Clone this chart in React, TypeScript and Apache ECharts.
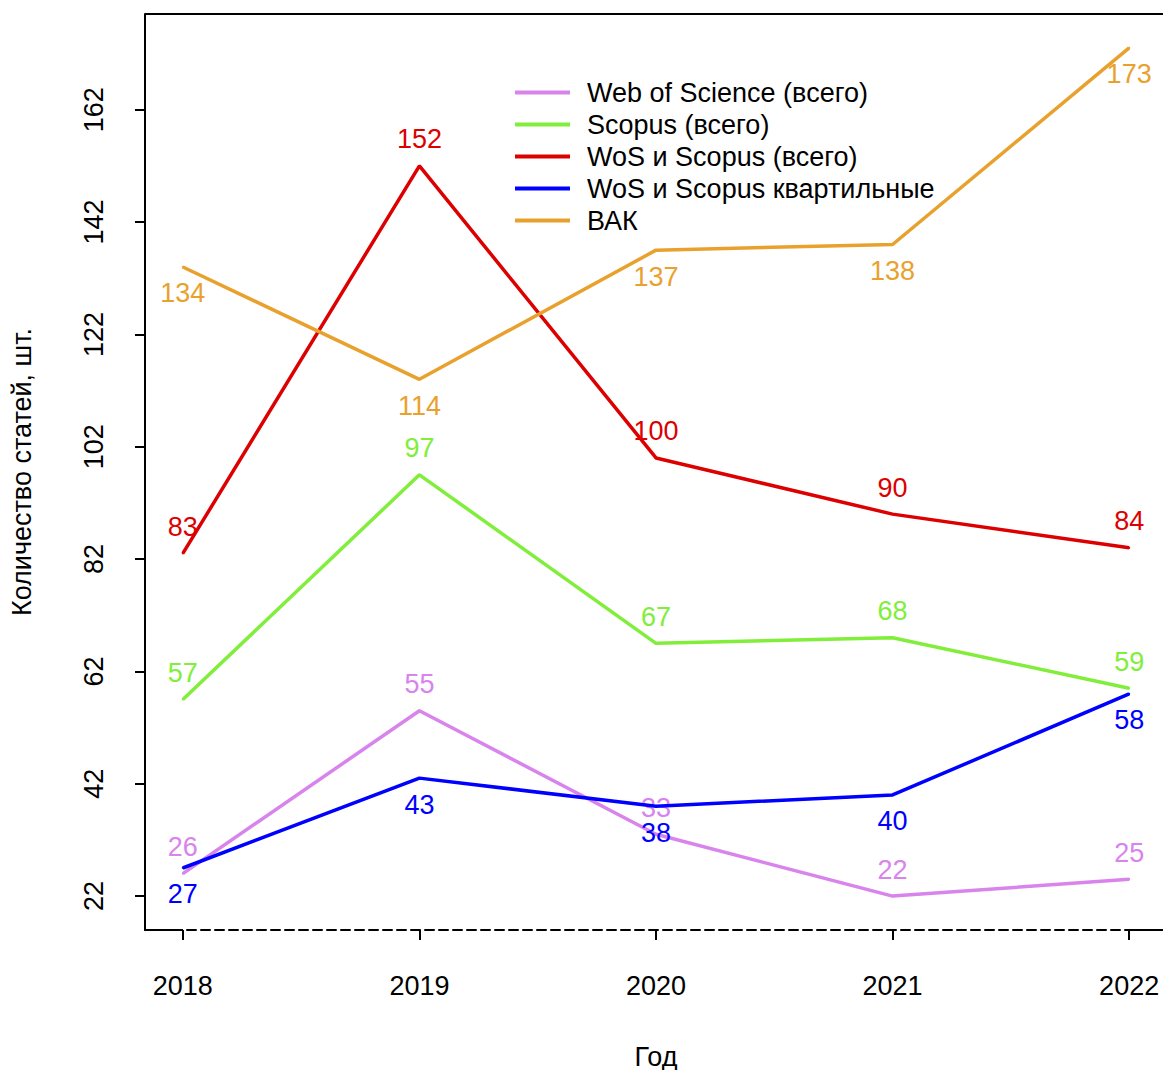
import React, { useEffect, useRef } from "react";
import * as echarts from "echarts";

const years = [2018, 2019, 2020, 2021, 2022];
const yTicks = [22, 42, 62, 82, 102, 122, 142, 162];
const wosTotal = [26, 55, 33, 22, 25];
const scopusTotal = [57, 97, 67, 68, 59];
const wosScopusTotal = [83, 152, 100, 90, 84];
const wosScopusQuart = [27, 43, 38, 40, 58];
const vak = [134, 114, 137, 138, 173];

const seriesNames = [
  "Web of Science (всего)",
  "Scopus (всего)",
  "WoS и Scopus (всего)",
  "WoS и Scopus квартильные",
  "ВАК",
];
const seriesValues = [wosTotal, scopusTotal, wosScopusTotal, wosScopusQuart, vak];
const seriesColors = ["#D884EC", "#80EE3A", "#DD0000", "#0000FF", "#E9A12E"];
const labelPos = ["top", "top", "top", "bottom", "bottom"];

const FONT = "Liberation Sans, Arial, Helvetica, sans-serif";
const FS = 27;

export default function App() {
  const ref = useRef<HTMLDivElement>(null);
  useEffect(() => {
    if (!ref.current) return;
    const chart = echarts.init(ref.current, null, { renderer: "svg" });
    const gridLeft = 145;
    const gridTop = 14;
    const gridW = 1022;
    const gridH = 916;
    const yMin = 15.96;
    const yMax = 179.04;
    const xMin = 2017.84;
    const xMax = 2022.16;
    chart.setOption({
      animation: false,
      backgroundColor: "#ffffff",
      textStyle: { fontFamily: FONT },
      grid: {
        left: gridLeft,
        top: gridTop,
        width: gridW,
        height: gridH,
        show: false,
        containLabel: false,
        outerBoundsMode: "none",
      },
      legend: {
        orient: "vertical",
        left: 515,
        top: 79,
        padding: 0,
        itemWidth: 55,
        itemHeight: 4,
        itemGap: 5,
        icon: "rect",
        textStyle: { fontSize: FS, color: "#000", fontFamily: FONT, lineHeight: 27, padding: [0, 0, 0, 12] },
        data: seriesNames.map((n, i) => ({ name: n, itemStyle: { color: seriesColors[i], opacity: 1 } })),
      },
      xAxis: {
        type: "value",
        min: xMin,
        max: xMax,
        name: "Год",
        nameLocation: "middle",
        nameGap: 113,
        nameTextStyle: { fontSize: FS, color: "#000", fontFamily: FONT },
        axisLine: { show: true, lineStyle: { color: "#000", width: 2, type: [9, 5] } },
        axisTick: { show: true, length: 10, lineStyle: { color: "#000", width: 2 }, customValues: years },
        axisLabel: {
          show: true,
          fontSize: FS,
          color: "#000",
          fontFamily: FONT,
          margin: 42,
          customValues: years,
          formatter: (v: number) => String(v),
        },
        splitLine: { show: false },
      },
      yAxis: {
        type: "value",
        min: yMin,
        max: yMax,
        name: "Количество статей, шт.",
        nameLocation: "middle",
        nameGap: 110,
        nameRotate: 90,
        nameTextStyle: { fontSize: FS, color: "#000", fontFamily: FONT },
        axisLine: { show: true, lineStyle: { color: "#000", width: 2 } },
        axisTick: { show: true, length: 10, lineStyle: { color: "#000", width: 2 }, customValues: yTicks },
        axisLabel: {
          show: true,
          rotate: 90,
          fontSize: FS,
          color: "#000",
          fontFamily: FONT,
          margin: 38,
          customValues: yTicks,
          formatter: (v: number) => String(v),
        },
        splitLine: { show: false },
      },
      graphic: [
        {
          type: "line",
          shape: { x1: gridLeft, y1: gridTop, x2: gridLeft + gridW, y2: gridTop },
          style: { stroke: "#000", lineWidth: 2 },
        },
        {
          type: "line",
          shape: { x1: gridLeft, y1: gridTop + gridH, x2: 183, y2: gridTop + gridH },
          style: { stroke: "#000", lineWidth: 2 },
        },
        {
          type: "line",
          shape: { x1: 1129, y1: gridTop + gridH, x2: gridLeft + gridW, y2: gridTop + gridH },
          style: { stroke: "#000", lineWidth: 2 },
        },
      ],
      series: seriesNames.map((name, i) => ({
        name,
        type: "line",
        data: years.map((y, j) => [y, seriesValues[i][j]]),
        symbol: "circle",
        symbolSize: 2,
        showSymbol: true,
        showAllSymbol: true,
        lineStyle: { color: seriesColors[i], width: 3.5 },
        itemStyle: { color: seriesColors[i], opacity: 1 },
        label: {
          show: true,
          position: labelPos[i],
          distance: labelPos[i] === "top" ? 12 : 12,
          fontSize: FS,
          color: seriesColors[i],
          opacity: 1,
          fontFamily: FONT,
          formatter: (p: any) => String(p.value[1]),
        },
        labelLayout: { hideOverlap: false },
        emphasis: { disabled: true },
        z: 2 + i,
      })),
    });
    return () => chart.dispose();
  }, []);
  return (
    <div
      ref={ref}
      style={{ position: "absolute", left: 0, top: 0, width: 1163, height: 1070 }}
    />
  );
}
